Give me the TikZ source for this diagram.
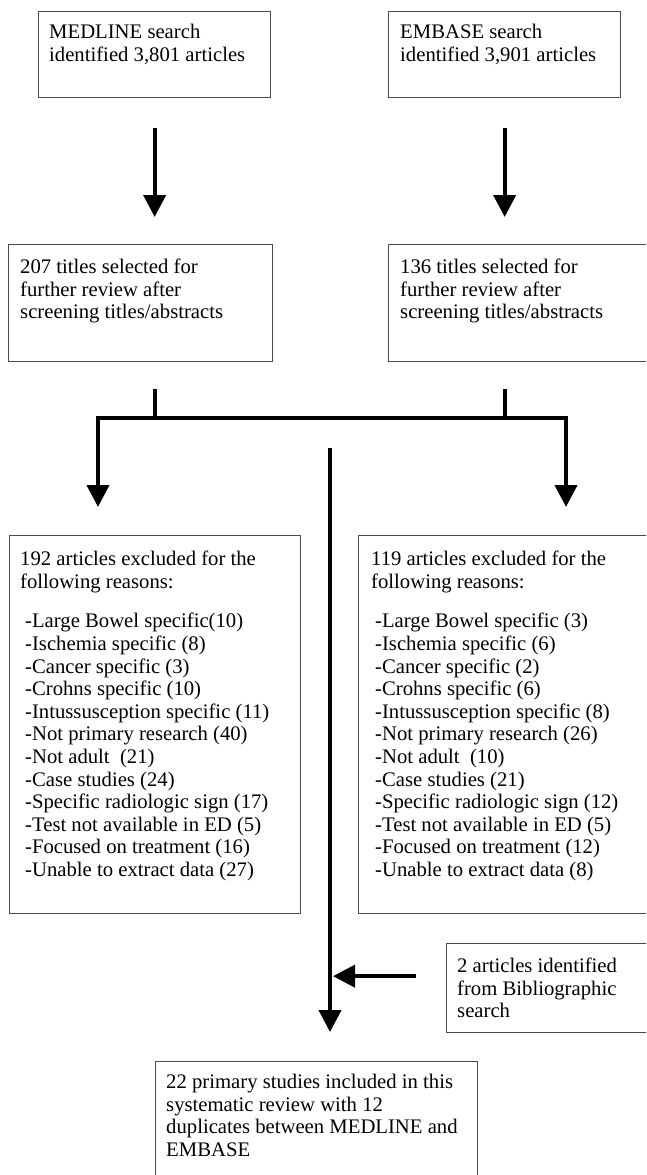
\documentclass[tikz,border=0pt]{standalone}
\usepackage{fontspec}
\setmainfont{Liberation Serif}
\usetikzlibrary{arrows.meta,calc}
\begin{document}
\begin{tikzpicture}[x=1pt,y=-1pt,
  box/.style={draw=black!70, line width=1.3pt, anchor=north west, inner sep=0, rectangle},
  txt/.style={anchor=north west, inner sep=0, align=left, font=\fontsize{20.7}{22.6}\selectfont},
  ln/.style={line width=4pt, black},
  arr/.style={line width=4pt, black, -{Triangle[width=22pt,length=22pt]}},
  arrb/.style={line width=4pt, black, line join=miter, {Triangle[width=22pt,length=22pt]}-{Triangle[width=22pt,length=22pt]}}
]
\useasboundingbox (0,0) rectangle (646,1175);
\clip (0,0) rectangle (646,1175);
\fill[white] (0,0) rectangle (646,1175);

% boxes
\node[box, minimum width=232pt, minimum height=86pt] (medline) at (38,11) {};
\node[box, minimum width=232pt, minimum height=86pt] (embase) at (388,11) {};
\node[box, minimum width=264pt, minimum height=117pt] (m207) at (8,244) {};
\node[box, minimum width=264pt, minimum height=117pt] (e136) at (388,244) {};
\node[box, minimum width=291pt, minimum height=378pt] (m192) at (9,535) {};
\node[box, minimum width=294pt, minimum height=378pt] (e119) at (358,535) {};
\node[box, minimum width=206pt, minimum height=89pt] (bib) at (446,943) {};
\node[box, minimum width=322pt, minimum height=130pt] (final) at (155,1061) {};

% texts
\node[txt] (medlinet) at (49,24) {MEDLINE search\\identified 3,801 articles};
\node[txt] (embaset) at (400,24) {EMBASE search\\identified 3,901 articles};
\node[txt] (m207t) at (20,259) {207 titles selected for\\further review after\\screening titles/abstracts};
\node[txt] (e136t) at (400,259) {136 titles selected for\\further review after\\screening titles/abstracts};
\node[txt] (m192t) at (20,551) {192 articles excluded for the\\following reasons:\\[17pt]
\hspace{5pt}-Large Bowel specific(10)\\
\hspace{5pt}-Ischemia specific (8)\\
\hspace{5pt}-Cancer specific (3)\\
\hspace{5pt}-Crohns specific (10)\\
\hspace{5pt}-Intussusception specific (11)\\
\hspace{5pt}-Not primary research (40)\\
\hspace{5pt}-Not adult\ \ (21)\\
\hspace{5pt}-Case studies (24)\\
\hspace{5pt}-Specific radiologic sign (17)\\
\hspace{5pt}-Test not available in ED (5)\\
\hspace{5pt}-Focused on treatment (16)\\
\hspace{5pt}-Unable to extract data (27)};
\node[txt] (e119t) at (371,551) {119 articles excluded for the\\following reasons:\\[17pt]
\hspace{4pt}-Large Bowel specific (3)\\
\hspace{4pt}-Ischemia specific (6)\\
\hspace{4pt}-Cancer specific (2)\\
\hspace{4pt}-Crohns specific (6)\\
\hspace{4pt}-Intussusception specific (8)\\
\hspace{4pt}-Not primary research (26)\\
\hspace{4pt}-Not adult\ \ (10)\\
\hspace{4pt}-Case studies (21)\\
\hspace{4pt}-Specific radiologic sign (12)\\
\hspace{4pt}-Test not available in ED (5)\\
\hspace{4pt}-Focused on treatment (12)\\
\hspace{4pt}-Unable to extract data (8)};
\node[txt] (bibt) at (457,958) {2 articles identified\\from Bibliographic\\search};
\node[txt] (finalt) at (166,1074) {22 primary studies included in this\\systematic review with 12\\duplicates between MEDLINE and\\EMBASE};

% connectors
\draw[arr] ($(medline.south)+(0,30)$) -- ($(medline.south |- m207.north)+(0,-27)$);
\draw[arr] ($(embase.south)+(0,30)$) -- ($(embase.south |- e136.north)+(0,-27)$);

\coordinate (sl) at ($(medline.south |- m207.south)+(0,27)$);
\coordinate (sr) at ($(embase.south |- e136.south)+(0,27)$);
\coordinate (hl) at (98,418);
\coordinate (hr) at (566,418);
\draw[ln] (sl) -- (sl |- hl);
\draw[ln] (sr) -- (sr |- hr);
\draw[arrb] ($(hl |- m192.north)+(0,-28)$) -- (hl) -- (hr) -- ($(hr |- e119.north)+(0,-28)$);

\coordinate (ctop) at (330,448);
\draw[arr] (ctop) -- ($(ctop |- final.north)+(0,-29)$);
\coordinate (bs) at ($(bib.west)+(-30,-12)$);
\draw[arr] (bs) -- ($(ctop |- bs)+(3,0)$);
\end{tikzpicture}
\end{document}
